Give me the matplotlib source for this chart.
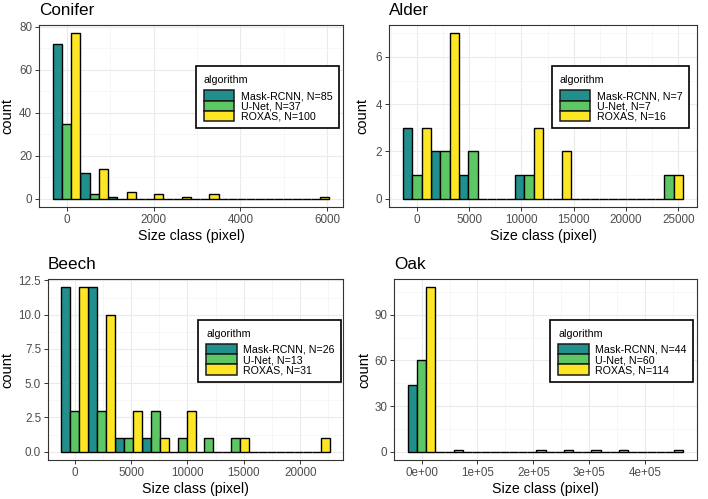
import matplotlib
matplotlib.use("Agg")
import matplotlib.pyplot as plt
from matplotlib.patches import Rectangle
from matplotlib.ticker import MultipleLocator, FuncFormatter
import numpy as np

plt.rcParams['font.family'] = ['Liberation Sans', 'DejaVu Sans']

# counts per size-class bin (10 bins)
algorithms = ["Mask-RCNN", "U-Net", "ROXAS"]
colors = ["#21908C", "#5DC863", "#FDE725"]

conifer_mask = [72, 12, 1, 0, 0, 0, 0, 0, 0, 0]
conifer_unet = [35, 2, 0, 0, 0, 0, 0, 0, 0, 0]
conifer_roxas = [77, 14, 3, 2, 1, 2, 0, 0, 0, 1]
conifer_binwidth = 636

alder_mask = [3, 2, 1, 0, 1, 0, 0, 0, 0, 0]
alder_unet = [1, 2, 2, 0, 1, 0, 0, 0, 0, 1]
alder_roxas = [3, 7, 0, 0, 3, 2, 0, 0, 0, 1]
alder_binwidth = 2680

beech_mask = [12, 12, 1, 1, 0, 0, 0, 0, 0, 0]
beech_unet = [3, 3, 1, 3, 1, 1, 1, 0, 0, 0]
beech_roxas = [12, 10, 3, 1, 3, 0, 1, 0, 0, 1]
beech_binwidth = 2380

oak_mask = [44, 0, 0, 0, 0, 0, 0, 0, 0, 0]
oak_unet = [60, 0, 0, 0, 0, 0, 0, 0, 0, 0]
oak_roxas = [108, 1, 0, 0, 1, 1, 1, 1, 0, 1]
oak_binwidth = 49250

W, H = 708, 499
fig = plt.figure(figsize=(W / 100, H / 100), dpi=100)
renderer = fig.canvas.get_renderer()


def fx(x):
    return x / W


def fy(y):
    return 1 - y / H


def px_axes(box):
    x0, y0, x1, y1 = box
    return fig.add_axes([x0 / W, 1 - y1 / H, (x1 - x0) / W, (y1 - y0) / H])


def draw_legend(box, labels):
    # ggplot-style legend box, centred at 75% / 60% of the panel
    x0, y0, x1, y1 = box
    lw_txt = [fig.text(0, 0, s, fontsize=7.7) for s in labels]
    tw = max(t.get_window_extent(renderer).width for t in lw_txt)
    for t in lw_txt:
        t.remove()
    bw, bh = 7.7 + 30.6 + 6.7 + tw + 6.5, 62
    cx = x0 + 0.752 * (x1 - x0)
    cy = y0 + 0.398 * (y1 - y0)
    lx, ty = cx - bw / 2, cy - bh / 2
    fig.add_artist(Rectangle((fx(lx), fy(ty + bh)), bw / W, bh / H,
                             transform=fig.transFigure, facecolor="white",
                             edgecolor="black", linewidth=1.2, zorder=5))
    fig.text(fx(lx + 7.7), fy(ty + 16.7), "algorithm", fontsize=7.7,
             va="baseline", ha="left", zorder=6)
    rh = 10.2
    for i, (s, col) in enumerate(zip(labels, colors)):
        top = ty + 24 + i * rh
        fig.add_artist(Rectangle((fx(lx + 7.7), fy(top + rh)), 30.6 / W, rh / H,
                                 transform=fig.transFigure, facecolor=col,
                                 edgecolor="#1a1a1a", linewidth=1.1, zorder=6))
        fig.text(fx(lx + 45), fy(top + rh / 2 + 3.8), s, fontsize=7.7,
                 va="baseline", ha="left", zorder=6)


def draw_panel(box, title, series, binwidth, xstep, ystep, ylab_px, sci=False):
    ax = px_axes(box)
    n = len(series[0])
    centers = np.arange(n) * binwidth
    bw = binwidth / 3
    labels = []
    for k, (vals, col, name) in enumerate(zip(series, colors, algorithms)):
        labels.append(f"{name}, N={sum(vals)}")
        ax.bar(centers + (k - 1) * bw, vals, width=bw, color=col,
               edgecolor="black", linewidth=1.0, zorder=3)

    ymax = max(max(s) for s in series)
    lo, hi = -binwidth / 2, (n - 0.5) * binwidth
    ax.set_xlim(lo - 0.05 * (hi - lo), hi + 0.05 * (hi - lo))
    ax.set_ylim(-0.05 * ymax, 1.05 * ymax)

    ax.xaxis.set_major_locator(MultipleLocator(xstep))
    ax.xaxis.set_minor_locator(MultipleLocator(xstep / 2))
    ax.yaxis.set_major_locator(MultipleLocator(ystep))
    ax.yaxis.set_minor_locator(MultipleLocator(ystep / 2))
    if sci:
        ax.xaxis.set_major_formatter(FuncFormatter(lambda v, p: f"{v:.0e}"))
    if ystep == 2.5:
        ax.yaxis.set_major_formatter(FuncFormatter(lambda v, p: f"{v:.1f}"))

    ax.grid(which="major", color="#EBEBEB", linewidth=0.8, zorder=0)
    ax.grid(which="minor", color="#F4F4F4", linewidth=0.5, zorder=0)
    ax.set_axisbelow(True)
    for sp in ax.spines.values():
        sp.set_color("#333333")
        sp.set_linewidth(0.8)
    ax.tick_params(which="major", length=3, width=0.7, color="#333333",
                   labelcolor="#4D4D4D", labelsize=8.4, pad=2)
    ax.tick_params(which="minor", length=0)

    ax.set_xlabel("Size class (pixel)", fontsize=10.2, labelpad=2)
    ax.set_ylabel("count", fontsize=10.5)
    ax.yaxis.set_label_coords(ylab_px / (box[2] - box[0]), 0.5)
    ax.set_title(title, loc="left", fontsize=12.3, pad=7)

    draw_legend(box, labels)
    return ax


draw_panel((39, 25, 343, 207), "Conifer",
           [conifer_mask, conifer_unet, conifer_roxas],
           conifer_binwidth, 2000, 20, -25)

draw_panel((389, 25, 697, 207), "Alder",
           [alder_mask, alder_unet, alder_roxas],
           alder_binwidth, 5000, 2, -20)

draw_panel((48, 279, 343, 460), "Beech",
           [beech_mask, beech_unet, beech_roxas],
           beech_binwidth, 5000, 2.5, -34)

draw_panel((394, 279, 697, 460), "Oak",
           [oak_mask, oak_unet, oak_roxas],
           oak_binwidth, 100000, 30, -23, sci=True)

fig.savefig("out.png", dpi=100)
